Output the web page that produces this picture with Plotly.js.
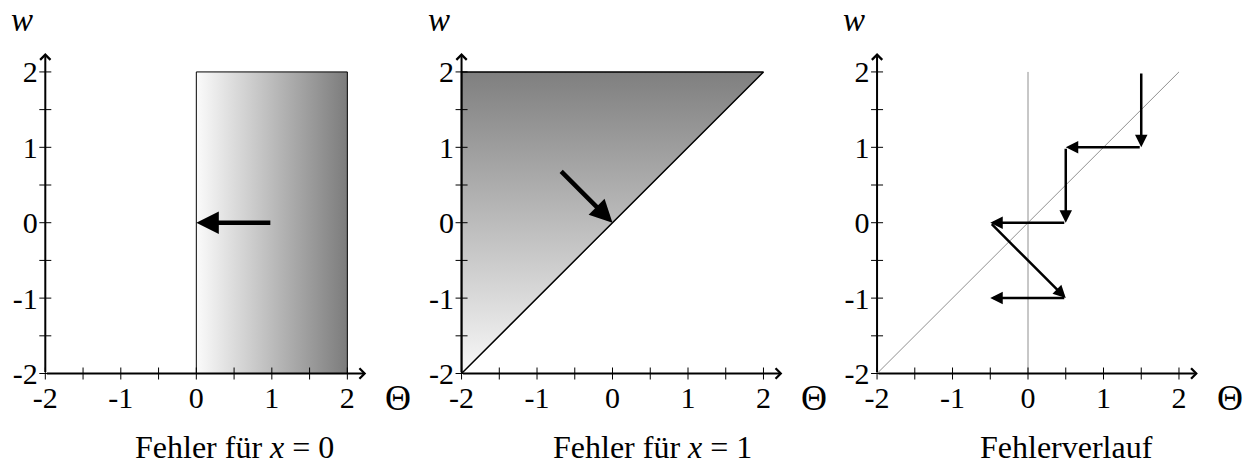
<!DOCTYPE html>
<html>
<head>
<meta charset="utf-8">
<script src="https://cdn.plot.ly/plotly-3.0.1.min.js"></script>
<style>
  html, body { margin: 0; padding: 0; background: #fff; }
  #chart { width: 1250px; height: 466px; }
</style>
</head>
<body>
<div id="chart"></div>
<script>
// axis values (same for all three panels)
const tickVals = [-2, -1, 0, 1, 2];
const tickText = ['-2', '-1', '0', '1', '2'];
const minorVals = [-2, -1.5, -1, -0.5, 0, 0.5, 1, 1.5, 2];

// panel 1: error region for x = 0 (rectangle) and its arrow
const rectTheta = [0, 0, 2, 2, 0];
const rectW = [-2, 2, 2, -2, -2];
const arrow1Theta = [1, 0];
const arrow1W = [0, 0];

// panel 2: error region for x = 1 (triangle) and its arrow
const triTheta = [-2, -2, 2, -2];
const triW = [-2, 2, 2, -2];
const arrow2Theta = [-0.7, 0];
const arrow2W = [0.7, 0];

// panel 3: reference lines and the error path
const diagTheta = [-2, 2];
const diagW = [-2, 2];
const vertTheta = [0, 0];
const vertW = [-2, 2];
const pathTheta = [1.5, 1.5, 0.5, 0.5, -0.5, 0.5, -0.5];
const pathW = [2, 1, 1, 0, 0, -1, -1];

const titles = ['Fehler für <i>x</i> = 0', 'Fehler für <i>x</i> = 1', 'Fehlerverlauf'];
const titleX = [0.592, 0.598, 0.592];
const xDomains = [[0.0302, 0.2960], [0.3632, 0.6289], [0.6956, 0.9613]];
const yDomain = [0.1823, 0.8942];

const FONT = '"Liberation Serif", "Times New Roman", serif';

const traces = [
    {
        x: rectTheta, y: rectW, xaxis: 'x', yaxis: 'y',
        type: 'scatter', mode: 'lines', fill: 'toself',
        fillgradient: { type: 'horizontal', colorscale: [[0, '#fbfbfb'], [1, '#7c7c7c']] },
        line: { color: '#000', width: 1 },
        hoverinfo: 'skip', showlegend: false
    },
    {
        x: triTheta, y: triW, xaxis: 'x2', yaxis: 'y2',
        type: 'scatter', mode: 'lines', fill: 'toself',
        fillgradient: { type: 'vertical', colorscale: [[0, '#f8f8f8'], [1, '#7f7f7f']] },
        line: { color: '#000', width: 1.5 },
        hoverinfo: 'skip', showlegend: false
    },
    {
        x: diagTheta, y: diagW, xaxis: 'x3', yaxis: 'y3',
        type: 'scatter', mode: 'lines',
        line: { color: '#909090', width: 1 },
        hoverinfo: 'skip', showlegend: false
    },
    {
        x: vertTheta, y: vertW, xaxis: 'x3', yaxis: 'y3',
        type: 'scatter', mode: 'lines',
        line: { color: '#909090', width: 1 },
        hoverinfo: 'skip', showlegend: false
    }
];

const layout = {
    width: 1250,
    height: 466,
    margin: { t: 0, r: 0, l: 0, b: 0 },
    paper_bgcolor: '#fff',
    plot_bgcolor: 'rgba(0,0,0,0)',
    font: { family: FONT, color: '#000', size: 30 },
    showlegend: false,
    annotations: [],
    shapes: []
};

for (let i = 0; i < 3; i++) {
    const s = i === 0 ? '' : String(i + 1);
    const xr = 'x' + s, yr = 'y' + s;

    layout['xaxis' + s] = {
        domain: xDomains[i], range: [-2.1, 2.3], anchor: yr,
        showgrid: false, zeroline: false, showline: false,
        tickvals: tickVals, ticktext: tickText,
        ticks: '', ticklabelstandoff: -4,
        tickfont: { family: FONT, size: 30 }, fixedrange: true
    };
    layout['yaxis' + s] = {
        domain: yDomain, range: [-2.1, 2.3], anchor: xr,
        showgrid: false, zeroline: false, showline: false,
        tickvals: tickVals, ticktext: tickText,
        ticks: '', ticklabelstandoff: -1,
        tickfont: { family: FONT, size: 30 }, fixedrange: true
    };

    // axis lines with open arrow heads
    layout.annotations.push(
        { xref: xr, yref: yr, axref: xr, ayref: yr, x: 2.25, y: -2, ax: -2, ay: -2,
          text: '', showarrow: true, arrowhead: 4, arrowsize: 1, arrowwidth: 2, arrowcolor: '#000' },
        { xref: xr, yref: yr, axref: xr, ayref: yr, x: -2, y: 2.25, ax: -2, ay: -2,
          text: '', showarrow: true, arrowhead: 4, arrowsize: 1, arrowwidth: 2, arrowcolor: '#000' }
    );

    // tick marks crossing the axes
    minorVals.forEach(function (t) {
        layout.shapes.push(
            { type: 'line', xref: xr, yref: yr, x0: t, x1: t,
              ysizemode: 'pixel', yanchor: -2, y0: -6, y1: 6,
              line: { color: '#000', width: 1 } },
            { type: 'line', xref: xr, yref: yr, y0: t, y1: t,
              xsizemode: 'pixel', xanchor: -2, x0: -6, x1: 6,
              line: { color: '#000', width: 1 } }
        );
    });

    // axis names and panel caption
    layout.annotations.push(
        { xref: xr + ' domain', yref: yr + ' domain', x: -0.046, y: 1.087,
          xanchor: 'center', yanchor: 'middle',
          text: '<i>w</i>', showarrow: false, font: { family: FONT, size: 33 } },
        { xref: xr + ' domain', yref: yr + ' domain', x: 1.0845, y: -0.051,
          xanchor: 'center', yanchor: 'middle',
          text: 'Θ', showarrow: false, font: { family: FONT, size: 36 } },
        { xref: xr + ' domain', yref: yr + ' domain', x: titleX[i], y: -0.199,
          xanchor: 'center', yanchor: 'middle',
          text: titles[i], showarrow: false, font: { family: FONT, size: 32 } }
    );
}

// data arrows
function addArrow(xr, yr, thetas, ws, k, width, size) {
    layout.annotations.push({
        xref: xr, yref: yr, axref: xr, ayref: yr,
        x: thetas[k + 1], y: ws[k + 1], ax: thetas[k], ay: ws[k],
        text: '', showarrow: true, arrowhead: 2, arrowsize: size,
        arrowwidth: width, arrowcolor: '#000', standoff: 0
    });
}
addArrow('x', 'y', arrow1Theta, arrow1W, 0, 4.5, 1);
addArrow('x2', 'y2', arrow2Theta, arrow2W, 0, 4.5, 1);
for (let k = 0; k < pathTheta.length - 1; k++) {
    addArrow('x3', 'y3', pathTheta, pathW, k, 2.5, 1);
}

Plotly.newPlot('chart', traces, layout, { displayModeBar: false, staticPlot: true });
</script>
</body>
</html>
